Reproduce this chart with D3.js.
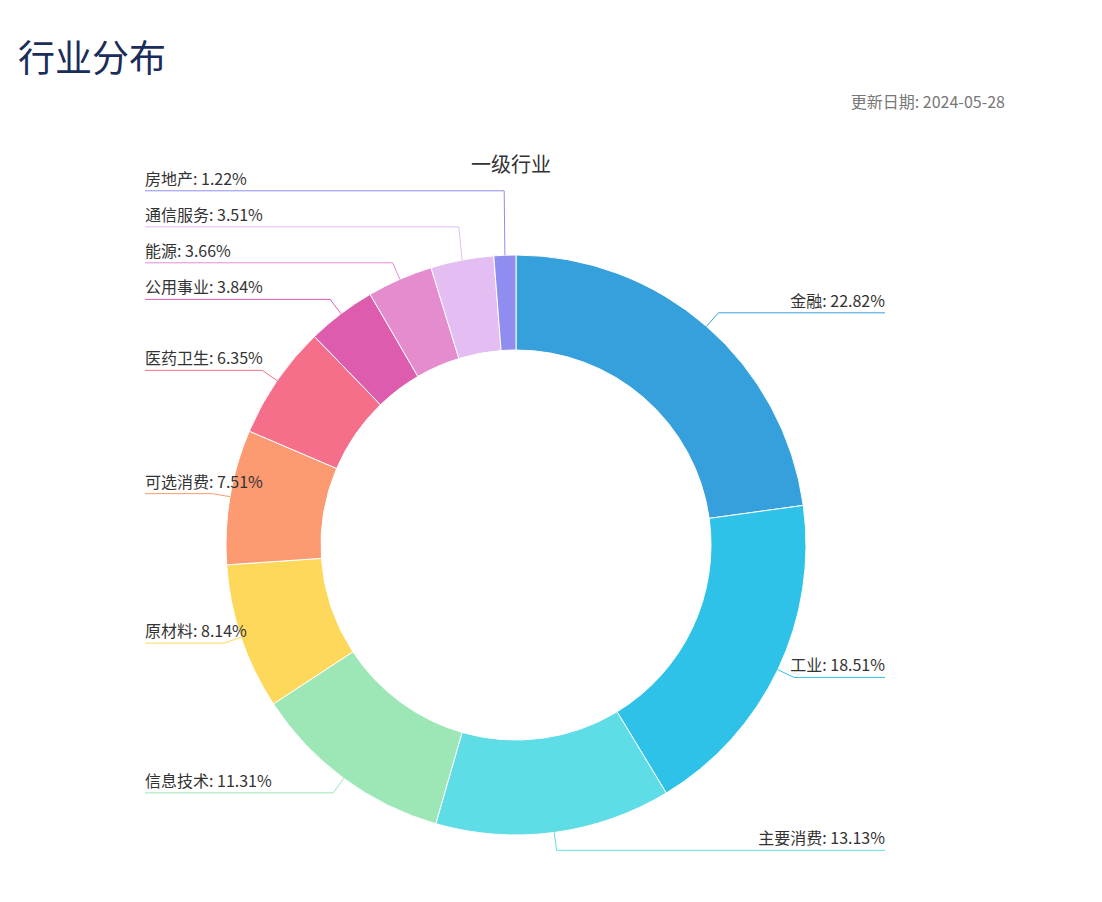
<!DOCTYPE html>
<html><head><meta charset="utf-8">
<script src="https://cdn.jsdelivr.net/npm/d3@7"></script>
<style>body{margin:0;background:#fff;font-family:"Noto Sans CJK SC","Noto Sans",sans-serif}</style>
</head><body>
<svg id="chart" width="1102" height="902"></svg>
<script>
const industries = ['金融','工业','主要消费','信息技术','原材料','可选消费','医药卫生','公用事业','能源','通信服务','房地产'];
const shares = [22.82,18.51,13.13,11.31,8.14,7.51,6.35,3.84,3.66,3.51,1.22];
const colors = ['#36a0dc','#2fc2e8','#5fdde6','#9de6b6','#fdd85a','#fc9a72','#f56f8a','#dd5cae','#e58ccf','#e4bdf2','#8f8ef0'];

const svg = d3.select('#chart');
const cx = 516, cy = 545, R = 290, r0 = 195;

svg.append('text').attr('x', 18).attr('y', 72).attr('font-size', 37)
  .attr('fill', '#1a2d5a').text('行业分布');
svg.append('text').attr('x', 1005).attr('y', 108).attr('text-anchor', 'end')
  .attr('font-size', 16).attr('fill', '#777').text('更新日期: 2024-05-28');
svg.append('text').attr('x', 511).attr('y', 172).attr('text-anchor', 'middle')
  .attr('font-size', 20).attr('fill', '#333').text('一级行业');

const data = industries.map((name, i) => ({ name, value: shares[i], color: colors[i] }));
const pie = d3.pie().value(d => d.value).sort(null);
const arcs = pie(data);
const arc = d3.arc().innerRadius(r0).outerRadius(R);

const g = svg.append('g').attr('transform', `translate(${cx},${cy})`);
g.selectAll('path').data(arcs).enter().append('path')
  .attr('d', arc).attr('fill', d => d.data.color)
  .attr('stroke', '#fff').attr('stroke-width', 1);

// label layout: elbow just outside the ring, stacked labels pushed upward
const labels = arcs.map(a => {
  const mid = (a.startAngle + a.endAngle) / 2;
  const sx = Math.sin(mid), sy = -Math.cos(mid);
  return {
    d: a.data, side: sx >= 0 ? 1 : -1,
    p1: [cx + sx * R, cy + sy * R],
    p2: [cx + sx * (R + 18), cy + sy * (R + 18)],
    y: cy + sy * (R + 18)
  };
});
const gap = 36;
[-1, 1].forEach(side => {
  const ls = labels.filter(l => l.side === side).sort((a, b) => a.y - b.y);
  for (let i = ls.length - 2; i >= 0; i--) {
    if (ls[i + 1].y - ls[i].y < gap) ls[i].y = ls[i + 1].y - gap;
  }
});

const lg = svg.append('g');
labels.forEach(l => {
  const endX = l.side < 0 ? 145 : 885;
  const elbowX = l.p2[0];
  lg.append('polyline')
    .attr('points', [l.p1, [elbowX, l.y], [endX, l.y]].map(p => p.join(',')).join(' '))
    .attr('fill', 'none').attr('stroke', l.d.color).attr('stroke-width', 1);
  lg.append('text')
    .attr('x', endX).attr('y', l.y - 6)
    .attr('text-anchor', l.side < 0 ? 'start' : 'end')
    .attr('font-size', 16).attr('fill', '#333')
    .text(`${l.d.name}: ${l.d.value.toFixed(2)}%`);
});
</script>
</body></html>
